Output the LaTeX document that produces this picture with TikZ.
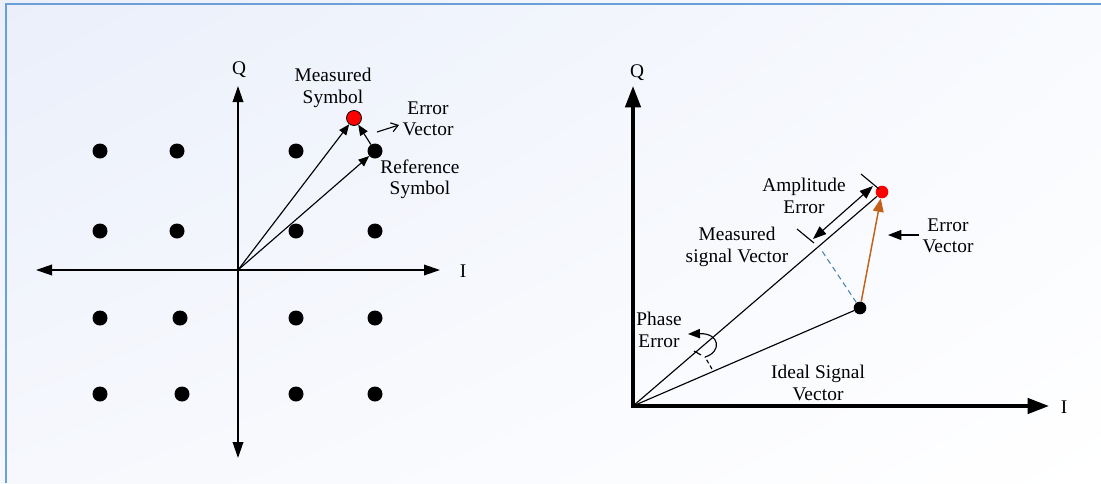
\documentclass[tikz,border=0pt]{standalone}
\usepackage{fontspec}
\setmainfont{Liberation Serif}[LetterSpace=0.5]
\usetikzlibrary{arrows.meta,calc,shadings}
\definecolor{bord}{HTML}{6A9FD8}
\definecolor{bgtl}{HTML}{EAEFFA}
\definecolor{bgtr}{HTML}{F8FAFE}
\definecolor{bgbl}{HTML}{F6F8FD}
\definecolor{errorange}{HTML}{C5601A}
\definecolor{dashblue}{HTML}{4A7FB5}
\begin{document}
\begin{tikzpicture}[x=0.75pt,y=-0.75pt,
  lbl/.style={align=center,inner sep=0pt,font=\fontsize{14.5}{16}\selectfont},
  bdot/.style={circle,fill=black,inner sep=0pt,minimum size=11.25pt},
  rdot/.style={circle,fill=red,draw=black,line width=0.6pt,inner sep=0pt,minimum size=11.25pt},
  sdot/.style={circle,fill=black,inner sep=0pt,minimum size=9.5pt},
  srdot/.style={circle,fill=red,inner sep=0pt,minimum size=9.5pt},
  axisA/.style={line width=1pt,{Triangle[length=12pt,width=8pt]}-{Triangle[length=12pt,width=8pt]}},
  axisB/.style={line width=2.6pt,{Triangle[length=16pt,width=11.5pt]}-{Triangle[length=16pt,width=11.5pt]}},
  vec/.style={line width=0.85pt,-{Triangle[length=8pt,width=6.5pt]}},
  thin/.style={line width=0.85pt}
]
\useasboundingbox (0,0) rectangle (1101,483);
\shade[upper left=bgtl,upper right=bgtr,lower left=bgbl,lower right=white] (0,0) rectangle (1101,483);
\draw[bord,line width=1.2pt] (6,483) -- (6,4) -- (1101,4);

% ---------- left constellation ----------
\coordinate (O1) at (238,270);
\coordinate (Qt) at (238,86);
\coordinate (Qb) at (238,458);
\coordinate (Il) at (36,270);
\coordinate (Ir) at (440,270);
\draw[axisA] (Qb) -- (Qt);
\draw[axisA] (Il) -- (Ir);
\node[lbl] (Q1) at (239,70) {Q};
\node[lbl] (I1) at (463,271) {I};

\node[bdot] (d11) at (100,151) {};
\node[bdot] (d12) at (177,151) {};
\node[bdot] (d13) at (296,151) {};
\node[bdot] (rs)  at (375,151) {};
\node[bdot] (d21) at (100,231) {};
\node[bdot] (d22) at (177,231) {};
\node[bdot] (d23) at (296,231) {};
\node[bdot] (d24) at (375,231) {};
\node[bdot] (d31) at (100,318) {};
\node[bdot] (d32) at (180,318) {};
\node[bdot] (d33) at (296,318) {};
\node[bdot] (d34) at (375,318) {};
\node[bdot] (d41) at (100,394) {};
\node[bdot] (d42) at (182,394) {};
\node[bdot] (d43) at (296,394) {};
\node[bdot] (d44) at (375,394) {};
\node[rdot] (ms) at (354,118) {};

\draw[vec] (O1) -- (ms);
\draw[vec] (O1) -- (rs);
\draw[vec] (rs) -- (ms);
\coordinate (ev1) at (377,132);
\coordinate (ev2) at (399,125);
\draw[thin,-{Straight Barb[length=5pt,width=7pt]}] (ev1) -- (ev2);

\node[lbl] (msl) at (333,88) {Measured\\Symbol};
\node[lbl] (evl) at (428,119) {Error\\Vector};
\node[lbl] (rsl) at (420,179) {Reference\\Symbol};

% ---------- right vector diagram ----------
\coordinate (O2) at (633,406);
\coordinate (Q2) at (633,86);
\coordinate (I2) at (1049,406);
\draw[axisB,line join=miter] (Q2) -- (O2) -- (I2);
\node[lbl] (Qr) at (637,73) {Q};
\node[lbl] (Ir2) at (1064,407) {I};

\node[srdot] (md) at (882,192) {};
\node[sdot] (id) at (860,308) {};
\coordinate (foot) at (820,248);
\draw[thin] (O2) -- (md);
\draw[thin] (O2) -- (id);
\draw[dashblue,line width=0.8pt,dash pattern=on 4pt off 3pt] (id) -- (foot);
\draw[errorange,line width=1.1pt,-{Triangle[length=10pt,width=8pt]}] (id) -- (md);

% amplitude error
\coordinate (t1a) at (861,174);
\coordinate (t1b) at (879,189);
\coordinate (t2a) at (797,229);
\coordinate (t2b) at (814,243);
\coordinate (a1) at (873,186);
\coordinate (a2) at (813,239);
\draw[thin] (t1a) -- (t1b);
\draw[thin] (t2a) -- (t2b);
\draw[thin,{Triangle[length=10pt,width=7.5pt]}-{Triangle[length=10pt,width=7.5pt]}] (a2) -- (a1);

% error vector pointer
\coordinate (p1) at (919,235);
\coordinate (p2) at (888,235);
\draw[thin,-{Triangle[length=10pt,width=7.5pt]}] (p1) -- (p2);

% phase error
\coordinate (ph0) at (712,369);
\coordinate (ph1) at (705,357);
\coordinate (ph2) at (688,334);
\coordinate (pd1) at (694,351);
\coordinate (pd2) at (701,355);
\draw[thin,dash pattern=on 3pt off 2pt] (ph0) -- (ph1);
\draw[thin] (pd1) -- (pd2);
\draw[thin,-{Triangle[length=9pt,width=7pt]}] (ph1) .. controls (722,352) and (720,333) .. (ph2);

\node[lbl] (ael) at (804,196) {Amplitude\\Error};
\node[lbl] (msv) at (737,247) {Measured\\signal Vector};
\node[lbl] (evr) at (948,236) {Error\\Vector};
\node[lbl] (pel) at (659,330) {Phase\\Error};
\node[lbl] (isv) at (818,383) {Ideal Signal\\Vector};
\end{tikzpicture}
\end{document}
